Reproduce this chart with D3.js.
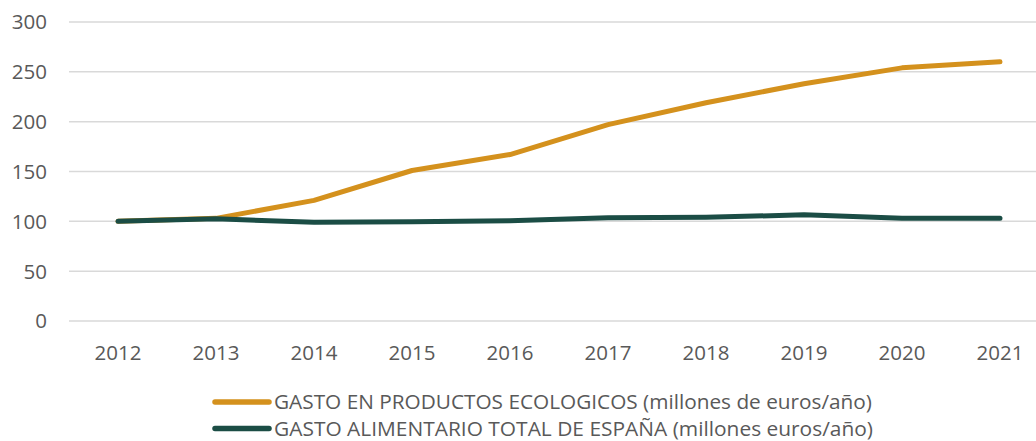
<!DOCTYPE html>
<html>
<head>
<meta charset="utf-8">
<script src="https://cdn.jsdelivr.net/npm/d3@7"></script>
<style>
  body { margin: 0; background: #fff; }
  svg text { font-family: "Open Sans", sans-serif; fill: #595959; }
</style>
</head>
<body>
<svg id="chart" width="1036" height="441"></svg>
<script>
const years = ["2012", "2013", "2014", "2015", "2016", "2017", "2018", "2019", "2020", "2021"];
const ecologicos = [100, 103, 121, 151, 167, 197, 219, 238, 254, 260];
const totalEspana = [100, 102.5, 99, 99.5, 100.5, 103.5, 104, 106.5, 103, 103];
const yTicks = [0, 50, 100, 150, 200, 250, 300];

const series = [
    { name: "GASTO EN PRODUCTOS ECOLOGICOS (millones de euros/año)", values: ecologicos, color: "#D4911D", width: 598 },
    { name: "GASTO ALIMENTARIO TOTAL DE ESPAÑA (millones euros/año)", values: totalEspana, color: "#1B4D45", width: 599 }
];

const svg = d3.select("#chart");

const x = d3.scalePoint().domain(years).range([118, 1000]);
const y = d3.scaleLinear().domain([0, 300]).range([321, 22]);

// gridlines
svg.append("g")
    .selectAll("line")
    .data(yTicks)
    .join("line")
    .attr("x1", 69)
    .attr("x2", 1036)
    .attr("y1", d => y(d))
    .attr("y2", d => y(d))
    .attr("stroke", "#d9d9d9")
    .attr("stroke-width", 1.5);

// y labels
svg.append("g")
    .selectAll("text")
    .data(yTicks)
    .join("text")
    .attr("x", 47)
    .attr("y", d => y(d))
    .attr("dy", "0.36em")
    .attr("text-anchor", "end")
    .attr("font-size", 20.5)
    .text(d => d);

// x labels
svg.append("g")
    .selectAll("text")
    .data(years)
    .join("text")
    .attr("x", d => x(d))
    .attr("y", 353)
    .attr("dy", "0.36em")
    .attr("text-anchor", "middle")
    .attr("font-size", 20.5)
    .text(d => d);

const line = d3.line()
    .x((d, i) => x(years[i]))
    .y(d => y(d));

svg.append("g")
    .selectAll("path")
    .data(series)
    .join("path")
    .attr("d", d => line(d.values))
    .attr("fill", "none")
    .attr("stroke", d => d.color)
    .attr("stroke-width", 5)
    .attr("stroke-linecap", "round")
    .attr("stroke-linejoin", "round");

// legend
const legend = svg.append("g")
    .selectAll("g")
    .data(series)
    .join("g")
    .attr("transform", (d, i) => `translate(0, ${402 + i * 26.5})`);

legend.append("line")
    .attr("x1", 215)
    .attr("x2", 269)
    .attr("stroke", d => d.color)
    .attr("stroke-width", 5.5)
    .attr("stroke-linecap", "round");

// Calibri-like narrow text: squeeze to the reference width
legend.append("text")
    .attr("x", 274)
    .attr("dy", "0.35em")
    .attr("font-size", 20.5)
    .attr("textLength", d => d.width)
    .attr("lengthAdjust", "spacingAndGlyphs")
    .text(d => d.name);
</script>
</body>
</html>
